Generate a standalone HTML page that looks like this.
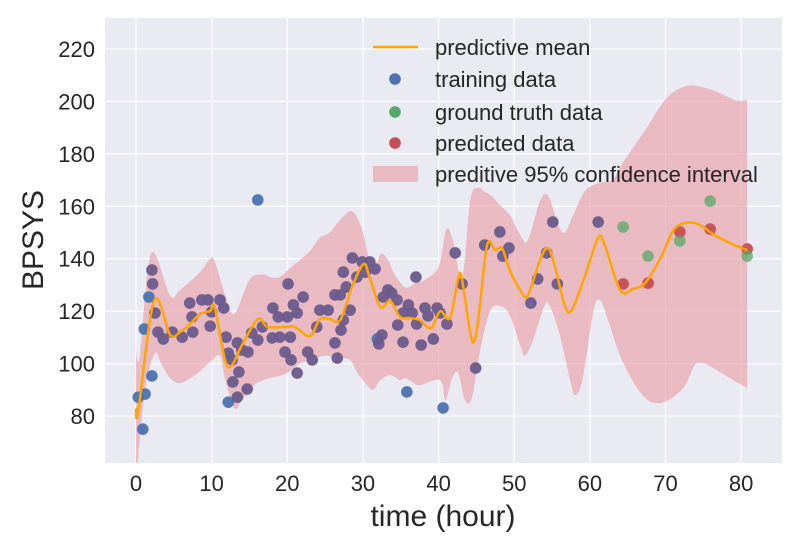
<!DOCTYPE html>
<html><head><meta charset="utf-8"><style>
body{margin:0;background:#fff;}
svg{display:block;font-family:"Liberation Sans",Arial,sans-serif;}
</style></head><body>
<svg id="chart" width="800" height="550"></svg>
<script>
const xTicks=[0,10,20,30,40,50,60,70,80];
const yTicks=[80,100,120,140,160,180,200,220];
const meanT=[0,0.3,2.4,4.5,5.8,7.1,8.5,9.8,10.4,11.8,12.7,14,16.1,17.4,19.7,21,23,24.3,25.6,27,28.6,30.1,30.9,32.3,33.6,34.9,36.2,37.5,39,40.2,41.5,42.6,43.1,44.4,45.2,46.4,47.5,48.4,49.4,50.8,51.8,53.4,54.5,55.5,56.7,57.6,59.4,61.1,62,64,65.7,67.3,69.3,71.3,73.9,76.5,78.5,80.8];
const meanV=[83,82,124,111,112,115,119,120,121.5,101,99.5,107,117,114,114,114,110.5,117,117,116.6,129.6,138,132.7,121.6,124,117.8,117.4,116.6,113.6,120,117.4,132.6,132,109,116,145,143.3,144,135.7,128,126,139.5,144,135.7,122,120.4,133.8,148,145,128,128.5,130.7,140,151.7,153.6,149,146,143.3];
const upT=[0,0.5,2,4.5,5.8,8.5,9.8,10.4,11.8,13,15,16.7,17.7,19,20.4,21.7,23,24.3,25.6,27.2,28.6,29.9,31.3,32.3,33.3,34.2,35.6,36.9,38.2,40,41,41.8,43.1,44.2,45.2,46.1,47,48.1,49.4,50.8,51.8,53.4,54.5,55.8,56.7,57.8,59.4,61.4,63,64.6,67.3,69.9,71.9,73.9,76.5,79.2,80.8];
const upV=[105,103,142,126,128,135,140,139,126,119,132,134,133,133,136.5,139.6,143,148,150,155.5,158,151,134.6,141.8,139.6,134,129,130.7,132,137,151,148,133,162.4,167,165.5,164,160.5,156.7,149,147,162,164,153,150,156.7,166,169,170,177.7,189,200.5,205,206,204,200.5,200.5];
const loT=[0,0.5,1.3,2.5,3.4,4.5,5.8,7.8,9.8,11.1,11.8,13,14,15.7,17.7,19.7,21.7,23.7,25,27,28.3,29.3,30.3,31.3,32.3,33.6,34.9,35.6,36.5,37.5,40.2,40.9,41.8,42.6,43.5,44.4,45.5,46.8,48.1,49.4,50.8,51.4,52.5,54,54.7,56,57.4,58,59,60.5,61.4,62.4,64,66,67.7,69.3,70.9,72.6,73.9,75.2,76.5,78.5,80.8];
const loV=[55,71,92,104,99.5,94.5,92.6,95.6,100.6,103,93.7,83,86,92,94.5,96,100,102,103,102,101.4,96.4,92.6,90,93.7,95.6,93.7,94.5,93,91.8,93.7,86,94.5,96.4,86,87,105,120,122,118.5,107,103,109,122,122,111,93.7,88,93.7,120.4,124,116.6,103,91.8,86,85,87,91.8,99.5,100,98,94.5,90.7];
const purpleT=[2.1,2.2,2.5,2.9,3.6,4.8,6.1,7.1,7.4,7.5,8.7,9.5,10,9.8,11.1,11.6,11.9,12.2,12.7,13.4,13.6,12.8,13.4,14.7,14,14.8,15.3,16.7,16.1,18.1,18.8,20,20.1,20.8,21.3,22.1,20.4,19.7,20.5,21.3,19,18,22.7,23.3,23.9,24.3,25.4,26.3,27,26.3,26.6,27.1,27.4,27.8,28.3,28.6,29.9,29.2,27.4,30.9,31.6,30.3,32.7,33.3,33.8,34.5,36,35.3,36.5,34.6,37.1,38.2,38.6,39.8,40.2,41.1,37,43.1,42.2,32.5,32.1,35.3,37.7,39.3,44.9,46.1,48.1,48.5,49.3,53.1,52.2,54.3,55.1,55.7,61.1];
const purpleV=[135.7,130.4,119.3,112,109.4,112,110.1,123.1,117.8,112,124.3,124.3,119.7,114.3,124.3,121.2,110.1,104,101.4,107.9,96.8,93,87.2,90.3,105.2,104.4,111.7,114,109,121.2,117.8,117.8,130.4,122.4,119.3,125.4,110.1,104.4,101.4,96.4,110.1,109.8,104.4,101.4,114,120.4,120.4,126.2,126.2,107.9,102.1,112.8,116.6,129.2,120.4,140.3,138.8,133,134.9,138.8,136.1,134.9,125.4,128.1,126.9,124.3,122.4,119.3,119.3,114.7,115.1,121.2,118.2,121.2,119.3,115.1,133,130.4,142.2,110.9,107.5,108.2,107.1,109.4,98.3,145.2,150.2,141,144.1,132.3,123.1,142.2,154,130.4,154];
const blueT=[16.1,0.9,2.1,0.3,1.2,1.1,1.7,12.2,35.8,40.6,31.9];
const blueV=[162.4,75,95.3,87.2,88.4,113.2,125.4,85.3,89.2,83.1,109.4];
const redT=[64.4,67.7,71.9,75.9,80.8];
const redV=[130.4,130.7,150.2,151.3,143.7];
const greenT=[64.4,67.7,71.9,75.9,80.8];
const greenV=[152.1,141,146.8,162,141];

const L=105,R=782,T=18,B=463;
const X0=-4.1,X1=85.4,Y0=62.1,Y1=231.8;
const sx=t=>L+(t-X0)/(X1-X0)*(R-L);
const sy=v=>B-(v-Y0)/(Y1-Y0)*(B-T);
const NS="http://www.w3.org/2000/svg";
const svg=document.getElementById('chart');
function mk(tag,attrs,parent){const e=document.createElementNS(NS,tag);for(const k in attrs)e.setAttribute(k,attrs[k]);(parent||svg).appendChild(e);return e;}
function smooth(pts){let d=`M${pts[0][0]},${pts[0][1]}`;for(let i=0;i<pts.length-1;i++){const p0=pts[Math.max(0,i-1)],p1=pts[i],p2=pts[i+1],p3=pts[Math.min(pts.length-1,i+2)];const c1=[p1[0]+(p2[0]-p0[0])/6,p1[1]+(p2[1]-p0[1])/6],c2=[p2[0]-(p3[0]-p1[0])/6,p2[1]-(p3[1]-p1[1])/6];d+=` C${c1[0]},${c1[1]} ${c2[0]},${c2[1]} ${p2[0]},${p2[1]}`;}return d;}

const bg=mk('rect',{x:L,y:T,width:R-L,height:B-T,fill:'#eaeaf2'});


const defs=mk('defs',{});
const cp=mk('clipPath',{id:'clip'},defs);mk('rect',{x:L,y:T,width:R-L,height:B-T},cp);

xTicks.forEach(t=>{const g=mk('line',{x1:sx(t),x2:sx(t),y1:T,y2:B,stroke:'#fff','stroke-width':1.2});


const tx=mk('text',{x:sx(t),y:B+28,'text-anchor':'middle','font-size':22,fill:'#262626'});tx.textContent=t;

});
yTicks.forEach(v=>{const g=mk('line',{x1:L,x2:R,y1:sy(v),y2:sy(v),stroke:'#fff','stroke-width':1.2});


const tx=mk('text',{x:L-10,y:sy(v)+8,'text-anchor':'end','font-size':22,fill:'#262626'});tx.textContent=v;

});

const up=upT.map((t,i)=>[sx(t),sy(upV[i])]);
const lo=loT.map((t,i)=>[sx(t),sy(loV[i])]).reverse();
let bd=smooth(up);bd+=' L'+lo[0][0]+','+lo[0][1]+smooth(lo).replace(/^M[^C]*/,' ')+' Z';
const band=mk('path',{d:bd,fill:'#e8a0a8','fill-opacity':0.65,'clip-path':'url(#clip)'});



function dots(ts,vs,col,op,name){ts.forEach((t,i)=>{const c=mk('circle',{cx:sx(t),cy:sy(vs[i]),r:5.8,fill:col,'fill-opacity':op,'clip-path':'url(#clip)'});

});}
dots(blueT,blueV,'#4c72b0',0.95,'training-point');
dots(purpleT,purpleV,'#6a5a8c',0.95,'training-point');
dots(redT,redV,'#c44e52',0.95,'predicted-point');
dots(greenT,greenV,'#55a868',0.75,'ground-truth-point');

const mean=mk('path',{d:smooth(meanT.map((t,i)=>[sx(t),sy(meanV[i])])),fill:'none',stroke:'#ffa500','stroke-width':2.5,'clip-path':'url(#clip)'});



const yt=mk('text',{x:0,y:0,transform:'translate(43,240) rotate(-90)','text-anchor':'middle','font-size':30,fill:'#262626'});yt.textContent='BPSYS';


const xt=mk('text',{x:443,y:526,'text-anchor':'middle','font-size':30,fill:'#262626'});xt.textContent='time (hour)';



const leg=mk('g',{});


const ly=[47,79,112,143,174];
const labels=['predictive mean','training data','ground truth data','predicted data','preditive 95% confidence interval'];
mk('line',{x1:373,x2:418,y1:ly[0],y2:ly[0],stroke:'#ffa500','stroke-width':2.5},leg);
mk('circle',{cx:395,cy:ly[1],r:5.8,fill:'#4c72b0'},leg);
mk('circle',{cx:395,cy:ly[2],r:5.8,fill:'#55a868'},leg);
mk('circle',{cx:395,cy:ly[3],r:5.8,fill:'#c44e52'},leg);
mk('rect',{x:373,y:ly[4]-8,width:45,height:16,fill:'#e8a0a8','fill-opacity':0.65},leg);
labels.forEach((s,i)=>{const t=mk('text',{x:435,y:ly[i]+8,'font-size':22,fill:'#262626'},leg);t.textContent=s;

});
</script>
</body></html>
